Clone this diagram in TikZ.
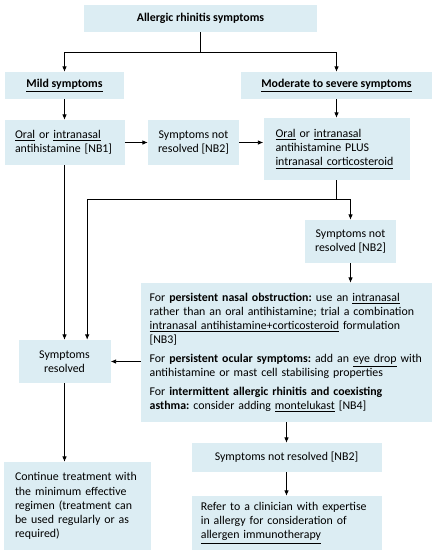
\documentclass[tikz,border=0pt]{standalone}
\usepackage{fontspec}
\setmainfont{Carlito}
\usetikzlibrary{arrows.meta}
\definecolor{boxblue}{RGB}{220,237,243}
\frenchspacing
\hyphenpenalty=10000
\begin{document}
\begin{tikzpicture}[
        x=0.75pt, y=-0.75pt,
        every node/.style={font=\fontsize{8.9}{10.6}\selectfont},
        box/.style={fill=boxblue, inner sep=0pt, align=center},
        leftbox/.style={fill=boxblue, inner ysep=0pt, align=left},
        link/.style={line width=0.6pt},
        arr/.style={link, -{Latex[length=4pt,width=3.4pt]}}
    ]
        \useasboundingbox (0,0) rectangle (436,557);

        \node[box, minimum width=174.75pt, minimum height=20.25pt] (top) at (200.5,18.5) {\textbf{Allergic rhinitis symptoms}};
        \node[box, minimum width=89.25pt, minimum height=20.25pt] (mild) at (64.5,85.5) {\textbf{\underline{Mild symptoms}}};
        \node[box, minimum width=143.25pt, minimum height=20.25pt] (moderate) at (336.5,85.5) {\textbf{\underline{Moderate to severe symptoms}}};
        \node[leftbox, inner xsep=7.9pt, text width=74.2pt, minimum height=33.75pt] (oral) at (64.5,142.5)
            {\underline{Oral} or \underline{intranasal}\\antihistamine [NB1]};
        \node[box, minimum width=68.25pt, minimum height=33.75pt] (nr1) at (193.5,142.5) {Symptoms not\\resolved [NB2]};
        \node[leftbox, inner xsep=9pt, text width=91.5pt, minimum height=46.5pt] (both) at (336.5,149)
            {\underline{Oral} or \underline{intranasal}\\antihistamine PLUS\\\underline{intranasal corticosteroid}};
        \node[box, minimum width=68.25pt, minimum height=32.25pt] (nr2) at (350.5,241.5) {Symptoms not\\resolved [NB2]};
        \node[leftbox, inner xsep=6.5pt, text width=205.25pt, minimum height=104.25pt] (options) at (286.5,352.5)
            {For \textbf{persistent nasal obstruction:} use an \underline{intranasal}\\
             rather than an oral antihistamine; trial a combination\\
             \underline{intranasal antihistamine+corticosteroid} formulation\\{}[NB3]\\[3.5pt]
             For \textbf{persistent ocular symptoms:} add an \underline{eye drop}~with\\
             antihistamine or mast cell stabilising properties\\[3.5pt]
             For \textbf{intermittent allergic rhinitis and coexisting}\\
             \textbf{asthma:} consider adding \underline{montelukast} [NB4]};
        \node[box, minimum width=69pt, minimum height=32.25pt] (resolved) at (64.5,361.5) {Symptoms\\resolved};
        \node[leftbox, inner xsep=8.25pt, text width=93.75pt, minimum height=66pt] (continue) at (77.5,506)
            {Continue treatment with\\the minimum effective\\regimen (treatment can\\be used regularly or as\\required)};
        \node[box, minimum width=142.5pt, minimum height=21.75pt] (nr3) at (286.5,457.5) {Symptoms not resolved [NB2]};
        \node[leftbox, inner xsep=7pt, text width=128.5pt, minimum height=40.5pt] (refer) at (286.5,523)
            {Refer to a clinician with expertise\\in allergy for consideration of\\\underline{allergen immunotherapy}};

        \coordinate (split1) at (200.5,52);
        \coordinate (split2) at (336.5,199);

        \draw[link] (top) -- (split1);
        \draw[arr] (split1) -| (mild);
        \draw[arr] (split1) -| (moderate);
        \draw[arr] (mild) -- (oral);
        \draw[arr] (moderate) -- (both);
        \draw[arr] (oral) -- (nr1);
        \draw[arr] (nr1.east) -- (nr1.east -| both.west);
        \draw[link] (both) -- (split2);
        \draw[arr] (split2) -| (nr2);
        \draw[arr] (split2) -| ([xshift=17pt]resolved.north);
        \draw[arr] (oral) -- (resolved);
        \draw[arr] (nr2) -- (nr2 |- options.north);
        \draw[arr] (options.west |- resolved) -- (resolved);
        \draw[arr] (resolved) -- (resolved |- continue.north);
        \draw[arr] (options) -- (nr3);
        \draw[arr] (nr3) -- (refer);
    \end{tikzpicture}
\end{document}
